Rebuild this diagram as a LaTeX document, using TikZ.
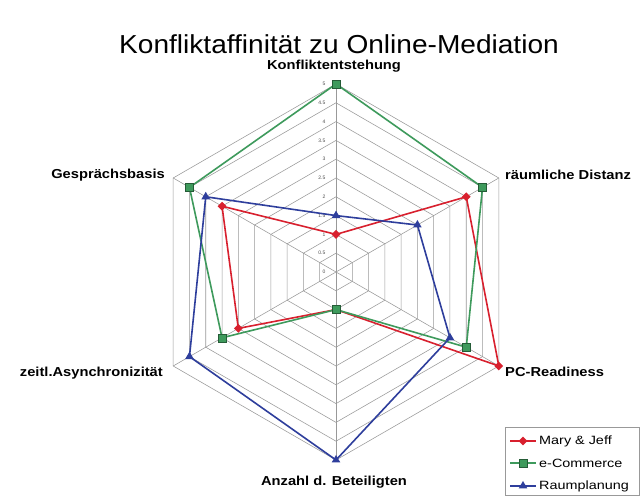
\documentclass[tikz,border=0pt]{standalone}
\usepackage{graphicx}
\usepackage{fontspec}
\setmainfont{Liberation Sans}
\usetikzlibrary{shapes.geometric}
\definecolor{serred}{HTML}{D8202E}
\definecolor{sergreen}{HTML}{3E9A5C}
\definecolor{serblue}{HTML}{2E3E9C}
\definecolor{gridgray}{HTML}{999999}
\begin{document}
\begin{tikzpicture}[x=1pt,y=1pt,
  gridline/.style={draw=gridgray, line width=0.55pt},
  axlabel/.style={font=\bfseries\fontsize{13}{13}\selectfont, inner sep=0pt},
  serline/.style={line width=1.6pt, line join=round},
  mkdia/.style={diamond, fill=serred, inner sep=0pt, minimum size=9pt},
  mksq/.style={rectangle, fill=sergreen, draw=sergreen!60!black, line width=0.4pt, inner sep=0pt, minimum size=8pt},
  mktri/.style={regular polygon, regular polygon sides=3, fill=serblue, inner sep=0pt, minimum size=10pt},
  ticklab/.style={font=\fontsize{5}{5}\selectfont, text=black!70, inner sep=0.5pt, anchor=east},
  legtext/.style={font=\fontsize{12}{12}\selectfont, anchor=west, inner sep=0pt}
]
\useasboundingbox (0,0) rectangle (640,497);
\fill[white] (0,0) rectangle (640,497);

% title
\node[font=\fontsize{26}{26}\selectfont, inner sep=0pt] (title) at (339,453) {\scalebox{1.08}[1]{Konfliktaffinität zu Online-Mediation}};

\begin{scope}[shift={(336,225)}]
  % grid rings
  \foreach \k in {1,...,10}{
    \draw[gridline] (90:{\k*18.8}) -- (30:{\k*18.8}) -- (-30:{\k*18.8}) -- (-90:{\k*18.8}) -- (210:{\k*18.8}) -- (150:{\k*18.8}) -- cycle;
  }
  % spokes
  \foreach \a in {90,30,-30,-90,210,150}{
    \draw[gridline] (0,0) -- (\a:188);
  }
  % tick labels
  \foreach \k/\t in {0/0,1/0.5,2/1,3/1.5,4/2,5/2.5,6/3,7/3.5,8/4,9/4.5,10/5}{
    \node[ticklab] at (-10,{\k*18.8}) {\t};
  }

  % data points
  \coordinate (r1) at (90:{1*37.6});
  \coordinate (r2) at (30:{4*37.6});
  \coordinate (r3) at (-30:{5*37.6});
  \coordinate (r4) at (-90:{1*37.6});
  \coordinate (r5) at (210:{3*37.6});
  \coordinate (r6) at (150:{3.5*37.6});

  \coordinate (g1) at (90:{5*37.6});
  \coordinate (g2) at (30:{4.5*37.6});
  \coordinate (g3) at (-30:{4*37.6});
  \coordinate (g4) at (-90:{1*37.6});
  \coordinate (g5) at (210:{3.5*37.6});
  \coordinate (g6) at (150:{4.5*37.6});

  \coordinate (b1) at (90:{1.5*37.6});
  \coordinate (b2) at (30:{2.5*37.6});
  \coordinate (b3) at (-30:{3.5*37.6});
  \coordinate (b4) at (-90:{5*37.6});
  \coordinate (b5) at (210:{4.5*37.6});
  \coordinate (b6) at (150:{4*37.6});

  % series Mary & Jeff
  \draw[serline, serred] (r1) -- (r2) -- (r3) -- (r4) -- (r5) -- (r6) -- cycle;
  \foreach \i in {1,...,6}{ \node[mkdia] (rm\i) at (r\i) {}; }
  % series e-Commerce
  \draw[serline, sergreen] (g1) -- (g2) -- (g3) -- (g4) -- (g5) -- (g6) -- cycle;
  \foreach \i in {1,...,6}{ \node[mksq] (gm\i) at (g\i) {}; }
  % series Raumplanung
  \draw[serline, serblue] (b1) -- (b2) -- (b3) -- (b4) -- (b5) -- (b6) -- cycle;
  \foreach \i in {1,...,6}{ \node[mktri] (bm\i) at (b\i) {}; }
\end{scope}

% axis labels
\node[axlabel] (l1) at (334,431) {\scalebox{1.13}[1]{Konfliktentstehung}};
\node[axlabel, anchor=west] (l2) at (505,322) {\scalebox{1.13}[1]{räumliche Distanz}};
\node[axlabel, anchor=west] (l3) at (505,125) {\scalebox{1.13}[1]{PC-Readiness}};
\node[axlabel] (l4) at (334,15) {\scalebox{1.13}[1]{Anzahl d. Beteiligten}};
\node[axlabel, anchor=east] (l5) at (163,124) {\scalebox{1.13}[1]{zeitl.Asynchronizität}};
\node[axlabel, anchor=east] (l6) at (165,322) {\scalebox{1.13}[1]{Gesprächsbasis}};

% legend
\draw[draw=gridgray, line width=0.5pt, fill=white] (505,2) rectangle (639,70);
\coordinate (la1) at (510,56); \coordinate (lb1) at (536,56);
\coordinate (la2) at (510,34); \coordinate (lb2) at (536,34);
\coordinate (la3) at (510,11); \coordinate (lb3) at (536,11);
\draw[serline, serred] (la1) -- (lb1);
\node[mkdia] (lm1) at (523,56) {};
\node[legtext] (lt1) at (539,56) {\scalebox{1.2}[1]{Mary \& Jeff}};
\draw[serline, sergreen] (la2) -- (lb2);
\node[mksq] (lm2) at (523,34) {};
\node[legtext] (lt2) at (539,34) {\scalebox{1.2}[1]{e-Commerce}};
\draw[serline, serblue] (la3) -- (lb3);
\node[mktri] (lm3) at (523,11) {};
\node[legtext] (lt3) at (539,11) {\scalebox{1.2}[1]{Raumplanung}};
\end{tikzpicture}
\end{document}
